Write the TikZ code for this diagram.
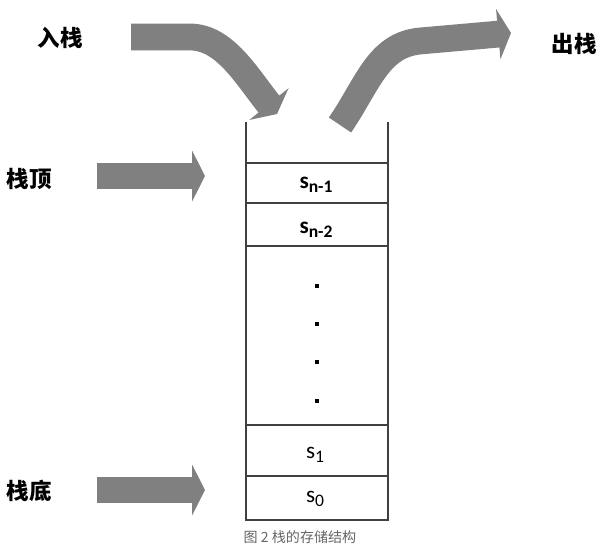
\documentclass[tikz,border=0pt]{standalone}
\usepackage{fontspec}
\setmainfont{Carlito}
\newfontfamily\cjk{Noto Sans CJK SC}
\usetikzlibrary{arrows.meta}
\newcommand\cellsub[1]{\raisebox{-3.5pt}{\fontsize{12.5}{14}\selectfont #1}}
\tikzset{
	blockarrow/.style={line width=0.67cm, color=black!50, -{Triangle[length=0.32cm,width=1.25cm]}},
	cjklabel/.style={font=\cjk\bfseries\fontsize{16}{18}\selectfont},
	cell/.style={anchor=base, font=\fontsize{16.5}{18}\selectfont},
	boldcell/.style={cell, font=\fontsize{16.5}{18}\selectfont\bfseries},
	wall/.style={line width=0.9pt, color=black!75},
	caption/.style={font=\cjk\fontsize{10}{12}\selectfont, color=black!60},
}

\begin{document}
\begin{tikzpicture}[x=0.025cm, y=-0.025cm]
		%%%%% START %%%%%
		\useasboundingbox (0, 0) rectangle (597, 547);
		
		% stack walls and cells
		\draw[wall] (246, 122) -- (246, 520) -- (388, 520) -- (388, 122);
		\foreach \y in {163, 203, 246, 425, 476}
			\draw[wall] (246, \y) -- (388, \y);
		
		\node[boldcell] (sn1) at (316, 188) {s\cellsub{n-1}};
		\node[boldcell] (sn2) at (316, 233) {s\cellsub{n-2}};
		\node[cell] (s1) at (315, 458) {s\cellsub{1}};
		\node[cell] (s0) at (315, 502) {s\cellsub{0}};
		
		\foreach \y in {286, 324, 362, 401}
			\fill (315, \y-2) rectangle (319, \y+2);
		
		% labels
		\node[cjklabel] (push) at (60, 38) {入栈};
		\node[cjklabel] (pop) at (574, 44) {出栈};
		\node[cjklabel] (top) at (29, 179) {栈顶};
		\node[cjklabel] (bottom) at (29, 491) {栈底};
		
		% block arrows
		\coordinate (pushfrom) at (131, 37);
		\coordinate (pushto) at (277, 114);
		\coordinate (popfrom) at (340, 125);
		\coordinate (popto) at (511, 33);
		\coordinate (topfrom) at (97, 176);
		\coordinate (topto) at (205, 176);
		\coordinate (bottomfrom) at (97, 490);
		\coordinate (bottomto) at (205, 490);
		
		\draw[blockarrow] (pushfrom) -- (190, 37) .. controls (225, 37) and (247, 77) .. (pushto);
		\draw[blockarrow] (popfrom) .. controls (368, 84) and (378, 45) .. (420, 41) -- (popto);
		\draw[blockarrow] (topfrom) -- (topto);
		\draw[blockarrow] (bottomfrom) -- (bottomto);
		
		\node[caption] (cap) at (300, 537) {图 2 栈的存储结构};
		%%%%% END %%%%%
	\end{tikzpicture}
\end{document}
